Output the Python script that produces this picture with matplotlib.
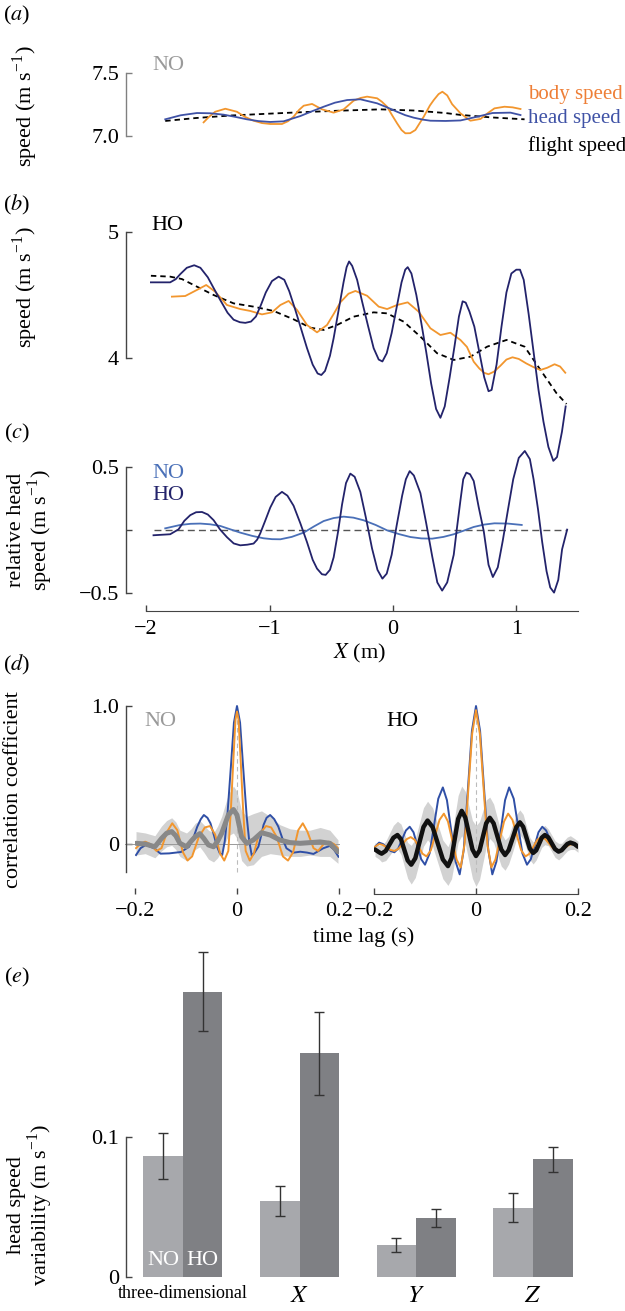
import matplotlib
matplotlib.use('Agg')
import matplotlib.pyplot as plt

# ---------------- data ----------------
# panel (a) NO: speeds along X (m)
a_head_x = [-1.845, -1.72, -1.588, -1.48, -1.372, -1.28, -1.183, -1.09, -0.994, -0.886, -0.75, -0.65, -0.561, -0.47, -0.371, -0.264, -0.128, -0.04, 0.034, 0.10, 0.169, 0.24, 0.304, 0.426, 0.547, 0.68, 0.807, 0.953, 1.034]
a_head_v = [7.130, 7.162, 7.180, 7.178, 7.167, 7.150, 7.130, 7.116, 7.109, 7.114, 7.156, 7.196, 7.230, 7.262, 7.283, 7.289, 7.257, 7.222, 7.190, 7.163, 7.143, 7.128, 7.119, 7.117, 7.121, 7.150, 7.180, 7.183, 7.164]
a_body_x = [-1.534, -1.49, -1.44, -1.358, -1.264, -1.20, -1.129, -1.06, -0.994, -0.899, -0.85, -0.805, -0.76, -0.723, -0.655, -0.574, -0.480, -0.399, -0.318, -0.26, -0.209, -0.128, -0.09, -0.047, -0.005, 0.034, 0.07, 0.101, 0.14, 0.182, 0.25, 0.30, 0.331, 0.37, 0.401, 0.44, 0.48, 0.547, 0.628, 0.710, 0.77, 0.823, 0.904, 0.97, 1.034]
a_body_v = [7.106, 7.15, 7.190, 7.214, 7.190, 7.15, 7.119, 7.100, 7.093, 7.093, 7.115, 7.151, 7.205, 7.238, 7.252, 7.209, 7.183, 7.209, 7.278, 7.300, 7.310, 7.297, 7.27, 7.230, 7.16, 7.098, 7.045, 7.019, 7.02, 7.045, 7.151, 7.24, 7.283, 7.33, 7.349, 7.32, 7.25, 7.178, 7.119, 7.133, 7.18, 7.217, 7.230, 7.225, 7.212]
a_flight_x = [-1.845, -1.6, -1.32, -1.0, -0.775, -0.45, -0.101, 0.169, 0.426, 0.547, 0.8, 1.067]
a_flight_v = [7.117, 7.14, 7.160, 7.175, 7.185, 7.198, 7.209, 7.200, 7.180, 7.165, 7.145, 7.130]

# panel (b) HO
b_head_x = [-1.961, -1.805, -1.76, -1.723, -1.67, -1.610, -1.56, -1.50, -1.45, -1.399,
            -1.34, -1.291, -1.24, -1.196, -1.15, -1.11, -1.07, -1.03, -0.98, -0.926,
            -0.88, -0.84, -0.79, -0.74, -0.696, -0.65, -0.61, -0.580, -0.55, -0.51,
            -0.48, -0.44, -0.40, -0.375, -0.355, -0.33, -0.29, -0.25, -0.20, -0.156,
            -0.115, -0.085, -0.05, -0.01, 0.03, 0.07, 0.10, 0.12, 0.15, 0.19,
            0.23, 0.27, 0.31, 0.35, 0.385, 0.42, 0.46, 0.50, 0.535, 0.565,
            0.59, 0.62, 0.66, 0.70, 0.74, 0.775, 0.80, 0.84, 0.88, 0.92,
            0.96, 1.00, 1.03, 1.06, 1.10, 1.14, 1.18, 1.22, 1.26, 1.30,
            1.33, 1.37, 1.40]
b_head_v = [4.600, 4.600, 4.625, 4.665, 4.715, 4.735, 4.715, 4.64, 4.55, 4.46,
            4.36, 4.305, 4.285, 4.280, 4.29, 4.33, 4.42, 4.52, 4.61, 4.645,
            4.62, 4.53, 4.38, 4.22, 4.08, 3.95, 3.88, 3.868, 3.90, 4.02,
            4.16, 4.38, 4.60, 4.72, 4.765, 4.73, 4.62, 4.45, 4.25, 4.08,
            3.99, 3.975, 4.04, 4.20, 4.40, 4.60, 4.70, 4.72, 4.67, 4.50,
            4.28, 4.05, 3.80, 3.60, 3.53, 3.62, 3.85, 4.10, 4.33, 4.45,
            4.44, 4.37, 4.25, 4.05, 3.85, 3.74, 3.75, 3.95, 4.25, 4.52,
            4.67, 4.70, 4.70, 4.62, 4.35, 4.05, 3.75, 3.50, 3.30, 3.19,
            3.22, 3.42, 3.62]
b_body_x = [-1.791, -1.683, -1.588, -1.513, -1.440, -1.345, -1.237, -1.156, -1.061, -0.980,
            -0.912, -0.845, -0.777, -0.696, -0.615, -0.534, -0.48, -0.426, -0.36, -0.304,
            -0.209, -0.115, -0.047, 0.034, 0.120, 0.209, 0.304, 0.385, 0.466, 0.547,
            0.60, 0.655, 0.70, 0.74, 0.775, 0.82, 0.87, 0.92, 0.969, 1.02,
            1.08, 1.14, 1.196, 1.25, 1.310, 1.355, 1.397]
b_body_v = [4.487, 4.492, 4.540, 4.579, 4.526, 4.421, 4.389, 4.374, 4.347, 4.363,
            4.421, 4.453, 4.382, 4.263, 4.205, 4.263, 4.35, 4.442, 4.51, 4.532,
            4.494, 4.408, 4.389, 4.421, 4.442, 4.368, 4.237, 4.184, 4.202, 4.145,
            4.09, 3.973, 3.92, 3.885, 3.874, 3.895, 3.94, 3.99, 4.008, 3.995,
            3.96, 3.93, 3.908, 3.925, 3.953, 3.935, 3.886]
b_flight_x = [-1.961, -1.805, -1.710, -1.588, -1.453, -1.291, -1.129, -0.967, -0.805, -0.669, -0.561, -0.453, -0.318, -0.156, -0.047, 0.088, 0.223, 0.358, 0.493, 0.629, 0.764, 0.921, 1.067, 1.196, 1.326, 1.407]
b_flight_v = [4.652, 4.645, 4.626, 4.566, 4.500, 4.434, 4.408, 4.374, 4.308, 4.242, 4.224, 4.263, 4.329, 4.363, 4.355, 4.289, 4.171, 4.040, 3.987, 4.013, 4.092, 4.145, 4.092, 3.908, 3.724, 3.639]

# panel (c) relative head speed
c_no_x = [-1.845, -1.723, -1.64, -1.561, -1.48, -1.399, -1.32, -1.237, -1.14, -1.048,
          -0.98, -0.912, -0.82, -0.723, -0.64, -0.561, -0.48, -0.399, -0.32, -0.237,
          -0.14, -0.047, 0.05, 0.142, 0.23, 0.318, 0.41, 0.493, 0.575, 0.655,
          0.74, 0.823, 0.93, 1.044]
c_no_v = [0.010, 0.037, 0.046, 0.048, 0.042, 0.029, 0.003, -0.024, -0.050, -0.069,
          -0.076, -0.077, -0.058, -0.024, 0.025, 0.068, 0.092, 0.103, 0.095, 0.074,
          0.037, -0.006, -0.036, -0.059, -0.070, -0.072, -0.058, -0.037, -0.008, 0.021,
          0.040, 0.050, 0.048, 0.037]
c_ho_x = [-1.940, -1.805, -1.737, -1.69, -1.642, -1.595, -1.547, -1.50, -1.453, -1.40,
          -1.345, -1.29, -1.237, -1.18, -1.129, -1.10, -1.075, -1.035, -0.994, -0.95,
          -0.899, -0.855, -0.805, -0.75, -0.696, -0.65, -0.615, -0.575, -0.545, -0.51,
          -0.48, -0.445, -0.412, -0.38, -0.345, -0.31, -0.264, -0.22, -0.169, -0.125,
          -0.085, -0.05, -0.01, 0.03, 0.075, 0.105, 0.136, 0.17, 0.223, 0.27,
          0.318, 0.36, 0.399, 0.44, 0.493, 0.52, 0.547, 0.57, 0.595, 0.625,
          0.655, 0.695, 0.736, 0.775, 0.81, 0.85, 0.89, 0.933, 0.975, 1.02,
          1.069, 1.11, 1.14, 1.176, 1.21, 1.245, 1.275, 1.306, 1.34, 1.371, 1.412]
c_ho_v = [-0.045, -0.037, 0.002, 0.07, 0.115, 0.138, 0.140, 0.12, 0.075, 0.0,
          -0.06, -0.11, -0.125, -0.12, -0.111, -0.08, -0.03, 0.07, 0.175, 0.26,
          0.300, 0.27, 0.19, 0.05, -0.10, -0.24, -0.31, -0.355, -0.36, -0.32,
          -0.22, -0.02, 0.20, 0.37, 0.445, 0.42, 0.30, 0.10, -0.15, -0.32,
          -0.39, -0.35, -0.20, 0.03, 0.27, 0.40, 0.465, 0.43, 0.29, 0.05,
          -0.21, -0.42, -0.485, -0.42, -0.20, 0.02, 0.23, 0.40, 0.453, 0.44,
          0.386, 0.18, -0.011, -0.28, -0.377, -0.30, -0.09, 0.161, 0.40, 0.57,
          0.625, 0.56, 0.40, 0.161, -0.10, -0.33, -0.46, -0.501, -0.40, -0.157, 0.0]

# panel (d) NO correlations (time lag s)
dno_head_x = [-0.198, -0.189, -0.179, -0.163, -0.150, -0.133, -0.110, -0.094, -0.085, -0.078, -0.071, -0.065, -0.058, -0.052, -0.045, -0.039, -0.034, -0.029, -0.024, -0.019, -0.012, -0.006, 0.0, 0.006, 0.012, 0.019, 0.024, 0.029, 0.034, 0.042, 0.048, 0.052, 0.058, 0.065, 0.073, 0.081, 0.089, 0.097, 0.110, 0.124, 0.137, 0.150, 0.169, 0.182, 0.190, 0.199]
dno_head_v = [-0.08, -0.03, -0.007, -0.03, -0.07, -0.068, -0.058, -0.02, 0.05, 0.125, 0.18, 0.21, 0.19, 0.15, 0.06, -0.02, -0.065, -0.08, 0.02, 0.2, 0.56, 0.88, 1.0, 0.88, 0.56, 0.2, 0.02, -0.085, -0.065, -0.019, 0.07, 0.138, 0.19, 0.21, 0.18, 0.126, 0.04, -0.031, -0.063, -0.056, -0.062, -0.072, -0.031, -0.014, -0.04, -0.092]
dno_body_x = [-0.198, -0.19, -0.18, -0.17, -0.158, -0.148, -0.137, -0.127, -0.117, -0.106, -0.097, -0.088, -0.075, -0.063, -0.053, -0.043, -0.033, -0.025, -0.017, -0.012, -0.007, -0.003, 0, 0.003, 0.007, 0.012, 0.017, 0.025, 0.033, 0.043, 0.057, 0.067, 0.078, 0.09, 0.1, 0.11, 0.12, 0.129, 0.138, 0.15, 0.159, 0.17, 0.18, 0.19, 0.198]
dno_body_v = [-0.03, 0.0, 0.017, 0.0, -0.05, -0.03, 0.09, 0.15, 0.1, -0.06, -0.12, -0.09, 0.05, 0.12, 0.13, 0.07, -0.07, -0.12, -0.05, 0.25, 0.62, 0.90, 0.96, 0.90, 0.62, 0.25, -0.05, -0.12, -0.07, 0.07, 0.13, 0.12, 0.05, -0.09, -0.12, -0.06, 0.1, 0.15, 0.09, -0.03, -0.05, 0.0, 0.017, 0.0, -0.03]
dno_cross_x = [-0.198, -0.180, -0.161, -0.148, -0.138, -0.128, -0.120, -0.112, -0.099, -0.090, -0.082, -0.073, -0.065, -0.056, -0.046, -0.038, -0.030, -0.017, -0.007, 0.0, 0.009, 0.019, 0.032, 0.048, 0.065, 0.084, 0.104, 0.124, 0.143, 0.163, 0.182, 0.198]
dno_cross_v = [0.005, 0.0, -0.02, 0.04, 0.078, 0.09, 0.06, 0.005, -0.02, 0.02, 0.053, 0.075, 0.04, -0.007, -0.02, 0.02, 0.078, 0.21, 0.25, 0.21, 0.053, 0.005, 0.029, 0.082, 0.065, 0.029, 0.01, 0.005, 0.01, 0.015, 0.005, -0.056]
dno_cross_hi = [0.09, 0.08, 0.06, 0.13, 0.17, 0.19, 0.16, 0.1, 0.08, 0.11, 0.15, 0.17, 0.14, 0.1, 0.08, 0.13, 0.2, 0.36, 0.42, 0.38, 0.24, 0.2, 0.22, 0.24, 0.2, 0.14, 0.11, 0.1, 0.1, 0.12, 0.1, 0.03]
dno_cross_lo = [-0.08, -0.07, -0.1, -0.05, -0.02, -0.01, -0.04, -0.09, -0.12, -0.08, -0.04, -0.02, -0.06, -0.11, -0.13, -0.1, -0.05, 0.06, 0.08, 0.04, -0.12, -0.16, -0.15, -0.09, -0.07, -0.08, -0.09, -0.09, -0.08, -0.09, -0.09, -0.14]

# panel (d) HO correlations
dho_head_x = [-0.198, -0.19, -0.1825, -0.175, -0.1675, -0.16, -0.1525, -0.145, -0.1375, -0.13, -0.1225, -0.115, -0.1075, -0.1, -0.091, -0.0825, -0.074, -0.065, -0.057, -0.0485, -0.040, -0.032, -0.024, -0.016, -0.008,
              0.0,
              0.008, 0.016, 0.024, 0.032, 0.040, 0.0485, 0.057, 0.065, 0.074, 0.0825, 0.091, 0.1, 0.1075, 0.115, 0.1225, 0.13, 0.1375, 0.145, 0.1525, 0.16, 0.1675, 0.175, 0.1825, 0.19, 0.198]
dho_head_v = [-0.02, 0.01, 0.0, -0.025, -0.05, -0.06, -0.033, 0.0325, 0.098, 0.125, 0.085, -0.0125, -0.11, -0.15, -0.068, 0.13, 0.328, 0.41, 0.318, 0.095, -0.128, -0.22, -0.042, 0.39, 0.82,
              1.0,
              0.82, 0.39, -0.042, -0.22, -0.128, 0.095, 0.318, 0.41, 0.328, 0.13, -0.068, -0.15, -0.11, -0.0125, 0.085, 0.125, 0.098, 0.0325, -0.033, -0.06, -0.05, -0.025, 0.0, 0.01, -0.02]
dho_body_x = [-0.198, -0.19, -0.1825, -0.175, -0.1675, -0.16, -0.152, -0.144, -0.136, -0.128, -0.12, -0.1125, -0.105, -0.097, -0.0885, -0.08, -0.0715, -0.063, -0.055, -0.0465, -0.038, -0.03, -0.0225, -0.015, -0.0075,
              0.0,
              0.0075, 0.015, 0.0225, 0.03, 0.038, 0.0465, 0.055, 0.063, 0.0715, 0.08, 0.0885, 0.097, 0.105, 0.1125, 0.12, 0.128, 0.136, 0.144, 0.152, 0.16, 0.1675, 0.175, 0.1825, 0.19, 0.198]
dho_body_v = [-0.02, 0.0, -0.007, -0.025, -0.043, -0.05, -0.035, 0.0, 0.035, 0.05, 0.03, -0.02, -0.07, -0.09, -0.045, 0.065, 0.175, 0.22, 0.163, 0.025, -0.113, -0.17, -0.004, 0.40, 0.80,
              0.97,
              0.80, 0.40, -0.004, -0.17, -0.113, 0.025, 0.163, 0.22, 0.175, 0.065, -0.045, -0.09, -0.07, -0.02, 0.03, 0.05, 0.035, 0.0, -0.035, -0.05, -0.043, -0.025, -0.007, 0.0, -0.02]
dho_cross_x = [-0.198, -0.19, -0.185, -0.177, -0.1695, -0.162, -0.154, -0.147, -0.1405, -0.134, -0.127, -0.119, -0.111, -0.103, -0.095, -0.085, -0.075, -0.065, -0.055, -0.048, -0.0415, -0.035, -0.028, -0.021, -0.014, -0.007, 0.0, 0.007, 0.0135, 0.02, 0.027, 0.0345, 0.042, 0.0495, 0.057, 0.064, 0.0715, 0.079, 0.086, 0.0925, 0.099, 0.1055, 0.112, 0.118, 0.1235, 0.129, 0.135, 0.142, 0.1485, 0.155, 0.162, 0.168, 0.1735, 0.179, 0.185, 0.193, 0.2]
dho_cross_v = [-0.04, -0.06, -0.07, -0.05, -0.0025, 0.045, 0.065, 0.034, -0.0425, -0.119, -0.15, -0.103, 0.01, 0.123, 0.17, 0.122, 0.005, -0.112, -0.16, -0.102, 0.04, 0.182, 0.24, 0.192, 0.077, -0.039, -0.087, -0.047, 0.052, 0.15, 0.19, 0.15, 0.055, -0.04, -0.08, -0.045, 0.038, 0.122, 0.157, 0.125, 0.046, -0.033, -0.065, -0.046, 0.0, 0.046, 0.065, 0.047, 0.005, -0.037, -0.055, -0.045, -0.022, 0.0, 0.01, 0.0, -0.02]
dho_cross_hw = [0.05, 0.05, 0.06, 0.07, 0.08, 0.09,
                0.1, 0.11, 0.12, 0.13, 0.14, 0.14, 0.14, 0.14,
                0.14, 0.14, 0.14, 0.14, 0.14, 0.15, 0.16, 0.17,
                0.18, 0.19, 0.2, 0.21, 0.22, 0.21, 0.19, 0.17,
                0.15, 0.14, 0.13, 0.12, 0.11, 0.1, 0.1, 0.09,
                0.09, 0.09, 0.08, 0.08, 0.08, 0.07, 0.07, 0.07,
                0.07, 0.06, 0.06, 0.06, 0.06, 0.05, 0.05, 0.05, 0.05, 0.04, 0.04]

# panel (e) head speed variability
e_categories = ['three-dimensional', 'X', 'Y', 'Z']
e_no = [0.0866, 0.0545, 0.0225, 0.0493]
e_ho = [0.2045, 0.1603, 0.0421, 0.0842]
e_no_err = [0.0165, 0.0108, 0.0050, 0.0104]
e_ho_err = [0.0283, 0.0298, 0.0067, 0.0090]

# ---------------- style ----------------
W, H = 625, 1311
plt.rcParams['font.family'] = ['Liberation Serif', 'DejaVu Serif']
plt.rcParams['mathtext.fontset'] = 'stix'
plt.rcParams['axes.unicode_minus'] = True

ORANGE = '#F2962E'
ORANGE_T = '#EE7E36'
BLUE_A = '#3F52A6'
NAVY = '#23236B'
BLUE_C = '#4A70B8'
BLUE_D = '#2F4FA6'
GRAY_T = '#9A9A9A'
SPINE = '#444444'
FS = 16

fig = plt.figure(figsize=(W / 100, H / 100), dpi=100)


def add_ax(x0, x1, y0, y1):
    ax = fig.add_axes([x0 / W, 1 - y1 / H, (x1 - x0) / W, (y1 - y0) / H])
    ax.patch.set_visible(False)
    return ax


def lim_from(p_lo, p_hi, v1, p1, v2, p2):
    s = (v2 - v1) / (p2 - p1)
    return v1 + (p_lo - p1) * s, v1 + (p_hi - p1) * s


def ftext(x, y, s, **kw):
    kw.setdefault('ha', 'center')
    kw.setdefault('va', 'center')
    fig.text(x / W, 1 - y / H, s, **kw)


def left_spine(ax, outward_px, bounds, ticks, labels, color=SPINE):
    for s in ['top', 'right', 'bottom']:
        ax.spines[s].set_visible(False)
    sp = ax.spines['left']
    sp.set_position(('outward', outward_px * 0.72))
    sp.set_bounds(*bounds)
    sp.set_color(color)
    sp.set_linewidth(1.0)
    ax.set_yticks(ticks)
    ax.set_yticklabels(labels)
    ax.tick_params(axis='y', direction='in', length=4.5, width=1.0, color=color,
                   pad=5, labelsize=FS)


XPX0, XPX1 = 146.1, 578.0   # x-pixels for X=-2 and X=1.5
SPX = 126

# ---- panel (a)
ax_a = add_ax(XPX0, XPX1, 45, 165)
ax_a.set_xlim(-2, 1.5)
ax_a.set_ylim(*lim_from(165, 45, 7.0, 135.7, 7.5, 72.7))
ax_a.plot(a_flight_x, a_flight_v, color='black', lw=1.3, dashes=(3, 2.2))
ax_a.plot(a_body_x, a_body_v, color=ORANGE, lw=1.3)
ax_a.plot(a_head_x, a_head_v, color=BLUE_A, lw=1.3)
left_spine(ax_a, XPX0 - SPX, (7.0, 7.5), [7.0, 7.5], ['7.0', '7.5'], color='#808080')
ax_a.set_xticks([])

# ---- panel (b)
ax_b = add_ax(XPX0, XPX1, 205, 470)
ax_b.set_xlim(-2, 1.5)
ax_b.set_ylim(*lim_from(470, 205, 4.0, 358.3, 5.0, 231.7))
ax_b.plot(b_flight_x, b_flight_v, color='black', lw=1.3, dashes=(3, 2.2), clip_on=False)
ax_b.plot(b_body_x, b_body_v, color=ORANGE, lw=1.3, clip_on=False)
ax_b.plot(b_head_x, b_head_v, color=NAVY, lw=1.3, clip_on=False)
left_spine(ax_b, XPX0 - SPX, (4.0, 5.0), [4, 5], ['4', '5'])
ax_b.set_xticks([])

# ---- panel (c)
ax_c = add_ax(XPX0, XPX1, 455, 610.7)
ax_c.set_xlim(-2, 1.5)
ax_c.set_ylim(*lim_from(610.7, 455, -0.5, 592.5, 0.5, 466.7))
ax_c.plot([-1.94, 1.412], [0, 0], color='#555555', lw=1.0, dashes=(5, 3))
ax_c.plot(c_no_x, c_no_v, color=BLUE_C, lw=1.3)
ax_c.plot(c_ho_x, c_ho_v, color=NAVY, lw=1.3, clip_on=False)
left_spine(ax_c, XPX0 - SPX, (-0.5, 0.5), [-0.5, 0, 0.5], ['\u22120.5', '', '0.5'])
ax_c.spines['bottom'].set_visible(True)
ax_c.spines['bottom'].set_bounds(-2, 1.5)
ax_c.spines['bottom'].set_color(SPINE)
ax_c.set_xticks([-2, -1, 0, 1])
ax_c.set_xticklabels(['\u22122', '\u22121', '0', '1'])
ax_c.tick_params(axis='x', direction='in', length=4.5, width=1.0, color=SPINE,
                 pad=7, labelsize=FS)

# ---- panel (d)
D_TOP, D_BOT = 690, 894
dylim = lim_from(D_BOT, D_TOP, 0.0, 844, 1.0, 706)

ax_dl = add_ax(135, 339, D_TOP, D_BOT)
ax_dl.set_xlim(-0.2, 0.2)
ax_dl.set_ylim(*dylim)
ax_dl.fill_between(dno_cross_x, dno_cross_lo, dno_cross_hi, color='#D2D2D2', lw=0, zorder=1)
ax_dl.plot([-0.22, 0.2], [0, 0], color='#999999', lw=0.7, zorder=2, clip_on=False)
ax_dl.plot([0, 0], [-0.2, 1.0], color='#BBBBBB', lw=0.8, dashes=(4, 3), zorder=2)
ax_dl.plot(dno_head_x, dno_head_v, color=BLUE_D, lw=1.4, zorder=3)
ax_dl.plot(dno_body_x, dno_body_v, color=ORANGE, lw=1.4, zorder=4)
ax_dl.plot(dno_cross_x, dno_cross_v, color='#888888', lw=3.6, zorder=5,
           solid_capstyle='round')
left_spine(ax_dl, 135 - SPX, (-0.2, 1.0), [0, 1.0], ['0', '1.0'])

ax_dr = add_ax(374, 578, D_TOP, D_BOT)
ax_dr.set_xlim(-0.2, 0.2)
ax_dr.set_ylim(*dylim)
ho_lo = [v - h for v, h in zip(dho_cross_v, dho_cross_hw)]
ho_hi = [v + h for v, h in zip(dho_cross_v, dho_cross_hw)]
ax_dr.fill_between(dho_cross_x, ho_lo, ho_hi, color='#D2D2D2', lw=0, zorder=1)
ax_dr.plot([0, 0], [-0.2, 1.0], color='#BBBBBB', lw=0.8, dashes=(4, 3), zorder=2)
ax_dr.plot(dho_head_x, dho_head_v, color=BLUE_D, lw=1.4, zorder=3)
ax_dr.plot(dho_body_x, dho_body_v, color=ORANGE, lw=1.4, zorder=4)
ax_dr.plot(dho_cross_x, dho_cross_v, color='#111111', lw=3.2, zorder=5,
           solid_capstyle='round')
for s in ['top', 'right', 'left']:
    ax_dr.spines[s].set_visible(False)
ax_dr.set_yticks([])

for ax in (ax_dl, ax_dr):
    ax.spines['bottom'].set_bounds(-0.2, 0.2)
    ax.spines['bottom'].set_color(SPINE)
    ax.set_xticks([-0.2, 0, 0.2])
    ax.set_xticklabels(['\u22120.2', '0', '0.2'])
    ax.tick_params(axis='x', direction='in', length=4.5, width=1.0, color=SPINE,
                   pad=6, labelsize=FS)

# ---- panel (e)
E_GC0, E_GSTEP = 182.8, 116.7
ax_e = add_ax(140, 580, 930, 1276.7)
ax_e.set_xlim((140 - E_GC0) / E_GSTEP, (580 - E_GC0) / E_GSTEP)
ax_e.set_ylim(*lim_from(1276.7, 930, 0.0, 1276.7, 0.1, 1137.3))
idx = list(range(len(e_categories)))
bw = 0.34
xn = [i - bw / 2 for i in idx]
xh = [i + bw / 2 for i in idx]
ax_e.bar(xn, e_no, width=bw, color='#A7A8AC', lw=0, clip_on=False)
ax_e.bar(xh, e_ho, width=bw, color='#7F8084', lw=0, clip_on=False)
ax_e.errorbar(xn, e_no, yerr=e_no_err, fmt='none', ecolor='#333333', elinewidth=1.0,
              capsize=3.5, capthick=1.0, clip_on=False)
ax_e.errorbar(xh, e_ho, yerr=e_ho_err, fmt='none', ecolor='#333333', elinewidth=1.0,
              capsize=3.5, capthick=1.0, clip_on=False)
left_spine(ax_e, 140 - SPX, (0, 0.1), [0, 0.1], ['0', '0.1'])
ax_e.set_xticks(idx)
ax_e.set_xticklabels(['three-dimensional', '$\\mathit{X}$', '$\\mathit{Y}$', '$\\mathit{Z}$'])
ax_e.tick_params(axis='x', length=0, pad=6)
for i, lab in enumerate(ax_e.get_xticklabels()):
    lab.set_fontsize(13 if i == 0 else 18)
ax_e.get_xticklabels()[0].set_x(0.03)
ax_e.text(xn[0], 0.0115, 'NO', color='white', ha='center', va='center', fontsize=FS)
ax_e.text(xh[0], 0.0115, 'HO', color='white', ha='center', va='center', fontsize=FS)

# ---------------- texts ----------------
unit = 'speed (m s$^{\\mathregular{-1}}$)'
for lab, y in [('a', 15), ('b', 205), ('c', 433), ('d', 665), ('e', 977)]:
    ftext(17, y, '($\\mathit{' + lab + '}$)', fontsize=FS)

ftext(152, 65, 'NO', color=GRAY_T, fontsize=FS, ha='left')
ftext(528, 95, 'body speed', color=ORANGE_T, fontsize=15, ha='left')
ftext(528, 119, 'head speed', color=BLUE_A, fontsize=15, ha='left')
ftext(528, 146, 'flight speed', color='black', fontsize=15, ha='left')
ftext(25, 106, unit, fontsize=FS, rotation=90)

ftext(151, 225, 'HO', color='black', fontsize=FS, ha='left')
ftext(25, 287, unit, fontsize=FS, rotation=90)

ftext(152, 474, 'NO', color=BLUE_C, fontsize=FS, ha='left')
ftext(152, 495, 'HO', color=NAVY, fontsize=FS, ha='left')
ftext(31, 530, 'relative head\n' + unit, fontsize=FS, rotation=90, linespacing=1.0)
ftext(360, 653, '$\\mathit{X}$ (m)', fontsize=FS)

ftext(144, 722, 'NO', color=GRAY_T, fontsize=FS, ha='left')
ftext(386, 722, 'HO', color='black', fontsize=FS, ha='left')
ftext(14, 790, 'correlation coefficient', fontsize=FS, rotation=90)
ftext(364, 937, 'time lag (s)', fontsize=FS)

ftext(31, 1205, 'head speed\nvariability (m s$^{\\mathregular{-1}}$)', fontsize=FS,
      rotation=90, linespacing=1.0)

fig.savefig('out.png', dpi=100)
